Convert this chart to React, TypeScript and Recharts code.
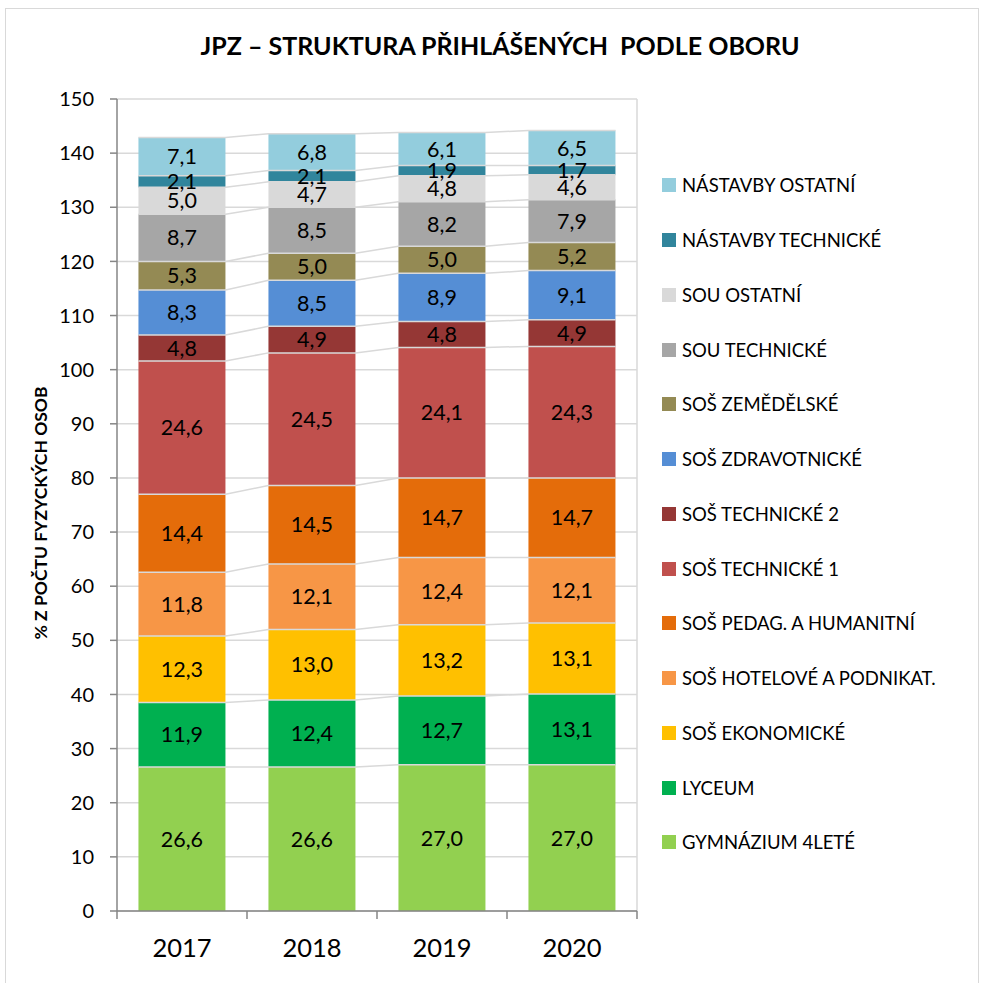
import React from "react";
import {
  ComposedChart,
  Bar,
  Line,
  XAxis,
  YAxis,
  CartesianGrid,
  LabelList,
  ReferenceLine,
} from "recharts";

const FONT = "Lato, 'Open Sans', sans-serif";

const years = ["2017", "2018", "2019", "2020"];

// pořadí odspodu nahoru
const seriesNames = [
  "GYMNÁZIUM 4LETÉ",
  "LYCEUM",
  "SOŠ EKONOMICKÉ",
  "SOŠ HOTELOVÉ A PODNIKAT.",
  "SOŠ PEDAG. A HUMANITNÍ",
  "SOŠ TECHNICKÉ 1",
  "SOŠ TECHNICKÉ 2",
  "SOŠ ZDRAVOTNICKÉ",
  "SOŠ ZEMĚDĚLSKÉ",
  "SOU TECHNICKÉ",
  "SOU OSTATNÍ",
  "NÁSTAVBY TECHNICKÉ",
  "NÁSTAVBY OSTATNÍ",
];

const seriesColors = [
  "#92D050",
  "#00B050",
  "#FFC000",
  "#F79646",
  "#E46C0A",
  "#C0504D",
  "#953735",
  "#558ED5",
  "#948A54",
  "#A6A6A6",
  "#D9D9D9",
  "#31859C",
  "#93CDDD",
];

const gymnazium = [26.6, 26.6, 27.0, 27.0];
const lyceum = [11.9, 12.4, 12.7, 13.1];
const sosEkonomicke = [12.3, 13.0, 13.2, 13.1];
const sosHotelove = [11.8, 12.1, 12.4, 12.1];
const sosPedag = [14.4, 14.5, 14.7, 14.7];
const sosTechnicke1 = [24.6, 24.5, 24.1, 24.3];
const sosTechnicke2 = [4.8, 4.9, 4.8, 4.9];
const sosZdravotnicke = [8.3, 8.5, 8.9, 9.1];
const sosZemedelske = [5.3, 5.0, 5.0, 5.2];
const souTechnicke = [8.7, 8.5, 8.2, 7.9];
const souOstatni = [5.0, 4.7, 4.8, 4.6];
const nastavbyTechnicke = [2.1, 2.1, 1.9, 1.7];
const nastavbyOstatni = [7.1, 6.8, 6.1, 6.5];

const seriesValues = [
  gymnazium,
  lyceum,
  sosEkonomicke,
  sosHotelove,
  sosPedag,
  sosTechnicke1,
  sosTechnicke2,
  sosZdravotnicke,
  sosZemedelske,
  souTechnicke,
  souOstatni,
  nastavbyTechnicke,
  nastavbyOstatni,
];

const yTicks = [0, 10, 20, 30, 40, 50, 60, 70, 80, 90, 100, 110, 120, 130, 140, 150];

// mezera mezi sloupci (podíl šířky kategorie na každé straně)
const GAP = 0.165;

const data = years.map((year, i) => {
  const row: any = { year };
  seriesValues.forEach((vals, s) => {
    row["s" + s] = vals[i];
  });
  return row;
});

// spojnice řad (jako v Excelu) – horní hrany jednotlivých úseků
const seriesLines = seriesValues.map((_, s) =>
  years.flatMap((_y, i) => {
    let cum = 0;
    for (let k = 0; k <= s; k++) cum += seriesValues[k][i];
    return [
      { x: i + GAP, y: cum },
      { x: i + 1 - GAP, y: cum },
    ];
  })
);

const fmt = (v: any) => Number(v).toFixed(1).replace(".", ",");

const YLabel = (props: any) => {
  const vb = props.viewBox || {};
  const x = vb.x - 17;
  const y = vb.y + vb.height / 2 + 8;
  return (
    <text
      x={x}
      y={y}
      transform={`rotate(-90, ${x}, ${y})`}
      textAnchor="middle"
      dominantBaseline="central"
      fontFamily={FONT}
      fontWeight="bold"
      fontSize={17.5}
      fill="#000"
    >
      % Z POČTU FYZYCKÝCH OSOB
    </text>
  );
};

function SeriesLegend() {
  const order = seriesNames.map((_, i) => i).reverse();
  return (
    <div style={{ position: "absolute", left: 662, top: 158, fontFamily: FONT }}>
      {order.map((s) => (
        <div key={seriesNames[s]} style={{ height: 54.75, display: "flex", alignItems: "center" }}>
          <span
            style={{
              display: "inline-block",
              width: 14,
              height: 14,
              background: seriesColors[s],
              marginRight: 6,
            }}
          />
          <span style={{ fontSize: 18.5, color: "#000", whiteSpace: "nowrap" }}>{seriesNames[s]}</span>
        </div>
      ))}
    </div>
  );
}

export default function App() {
  return (
    <div
      style={{
        position: "absolute",
        left: 0,
        top: 0,
        width: 983,
        height: 983,
        background: "#fff",
        fontFamily: FONT,
        overflow: "hidden",
      }}
    >
      <div
        style={{
          position: "absolute",
          left: 5,
          top: 8,
          width: 972,
          height: 1000,
          border: "1.5px solid #D9D9D9",
        }}
      />
      <div
        style={{
          position: "absolute",
          left: 500,
          top: 30,
          transform: "translateX(-50%)",
          whiteSpace: "pre",
          fontSize: 25,
          fontWeight: "bold",
          color: "#000",
        }}
      >
        {"JPZ – STRUKTURA PŘIHLÁŠENÝCH  PODLE OBORU"}
      </div>
      <div style={{ position: "absolute", left: 0, top: 0 }}>
        <ComposedChart
          width={983}
          height={983}
          data={data}
          barCategoryGap="16.5%"
          margin={{ top: 99, right: 346, bottom: 22, left: 57 }}
        >
          <CartesianGrid
            vertical={false}
            stroke="#D9D9D9"
            strokeWidth={1.5}
            xAxisId="a"
          />
          <XAxis
            xAxisId="a"
            type="number"
            dataKey="x"
            domain={[0, 4]}
            ticks={[0, 1, 2, 3, 4]}
            allowDataOverflow
            height={10}
            stroke="#868686"
            strokeWidth={1.5}
            tickSize={8}
            tick={() => <g />}
          />
          <XAxis
            xAxisId="b"
            dataKey="year"
            height={40}
            interval={0}
            axisLine={false}
            tickLine={false}
            tickMargin={12}
            tick={{ fill: "#000", fontSize: 25.5, fontFamily: FONT }}
          />
          <YAxis
            type="number"
            domain={[0, 150]}
            ticks={yTicks}
            width={60}
            stroke="#868686"
            strokeWidth={1.5}
            tickSize={7}
            tickMargin={16}
            tick={{ fill: "#000", fontSize: 20, fontFamily: FONT }}
            label={{ content: <YLabel /> }}
          />
          <ReferenceLine xAxisId="a" x={4} stroke="#D9D9D9" strokeWidth={1.5} />
          {seriesLines.map((pts, s) => (
            <Line
              key={"l" + s}
              xAxisId="a"
              data={pts}
              dataKey="y"
              type="linear"
              stroke="#D9D9D9"
              strokeWidth={1.5}
              dot={false}
              activeDot={false}
              legendType="none"
              isAnimationActive={false}
            />
          ))}
          {seriesNames.map((name, s) => (
            <Bar
              key={name}
              xAxisId="b"
              dataKey={"s" + s}
              name={name}
              stackId="a"
              fill={seriesColors[s]}
              isAnimationActive={false}
            >
              <LabelList
                dataKey={"s" + s}
                position="center"
                fill="#000"
                fontSize={21.5}
                fontFamily={FONT}
                formatter={fmt}
              />
            </Bar>
          ))}
        </ComposedChart>
      </div>
      <SeriesLegend />
    </div>
  );
}
